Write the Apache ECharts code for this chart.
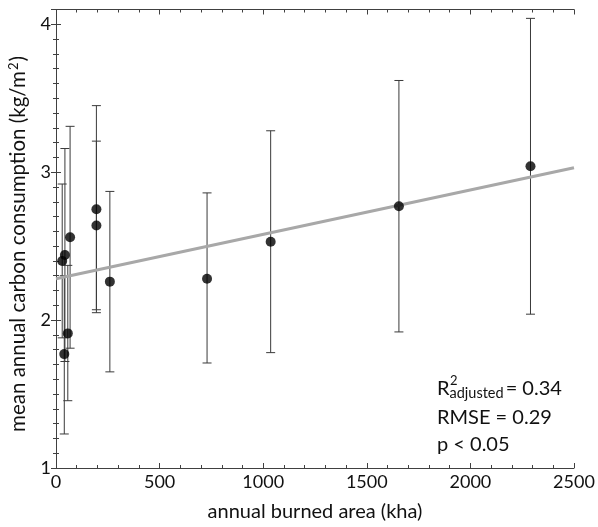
<!DOCTYPE html>
<html>
<head>
<meta charset="utf-8">
<script src="https://cdn.jsdelivr.net/npm/echarts@6/dist/echarts.min.js"></script>
<style>html,body{margin:0;padding:0;background:#fff}#c{width:598px;height:527px}</style>
</head>
<body>
<div id="c"></div>
<script>
// burned area (kha)
const burnedArea = [30, 43, 68, 57, 40, 195, 195, 260, 729, 1036, 1655, 2290];
// mean annual carbon consumption (kg/m2)
const meanCC = [2.40, 2.44, 2.56, 1.91, 1.77, 2.75, 2.64, 2.26, 2.28, 2.53, 2.77, 3.04];
// error bar ends
const errLow  = [1.88, 1.72, 1.81, 1.455, 1.23, 2.05, 2.07, 1.65, 1.71, 1.78, 1.92, 2.04];
const errHigh = [2.92, 3.16, 3.31, 2.37, 2.30, 3.45, 3.21, 2.87, 2.86, 3.28, 3.62, 4.04];
// regression line end points
const fitX = [0, 2500];
const fitY = [2.28, 3.03];
const xTicks = [0, 500, 1000, 1500, 2000, 2500];
const yTicks = [1, 2, 3, 4];

const FONT = 'Lato';
const chart = echarts.init(document.getElementById('c'), null, {renderer: 'canvas'});

const axCol = '#404040';
const axisLine = {show: true, lineStyle: {color: axCol, width: 1}};
const axisTick = {show: true, inside: true, length: 5, lineStyle: {color: axCol}};

const option = {
  animation: false,
  grid: {left: 56, right: 24, top: 9.5, bottom: 57, containLabel: false},
  xAxis: [
    {
      type: 'value', position: 'bottom', min: 0, max: 2500, interval: 500,
      axisLine: axisLine, axisTick: axisTick, splitLine: {show: false},
      minorTick: {show: true, splitNumber: 5, length: 3, lineStyle: {color: axCol}},
      axisLabel: {show: true, fontFamily: FONT, fontSize: 18, color: '#111', margin: 5,
        formatter: v => xTicks.includes(v) ? String(v) : ''},
      name: 'annual burned area (kha)', nameLocation: 'middle', nameGap: 34,
      nameTextStyle: {fontFamily: FONT, fontSize: 20, color: '#111'}
    },
    {
      type: 'value', position: 'top', min: 0, max: 2500, interval: 500,
      axisLine: axisLine, axisTick: axisTick,
      minorTick: {show: true, splitNumber: 5, length: 3, lineStyle: {color: axCol}},
      axisLabel: {show: false}, splitLine: {show: false}
    }
  ],
  yAxis: [
    {
      type: 'value', position: 'left', min: 1, max: 4.1, interval: 1,
      axisLine: axisLine, axisTick: axisTick, splitLine: {show: false},
      minorTick: {show: true, splitNumber: 10, length: 3, lineStyle: {color: axCol}},
      axisLabel: {show: true, fontFamily: FONT, fontSize: 18, color: '#111', margin: 5,
        showMaxLabel: false,
        formatter: v => yTicks.includes(v) ? String(v) : ''}
    },
    {
      type: 'value', position: 'right', min: 1, max: 4.1, interval: 1,
      axisLine: axisLine, axisTick: axisTick,
      minorTick: {show: true, splitNumber: 10, length: 3, lineStyle: {color: axCol}},
      axisLabel: {show: false}, splitLine: {show: false}
    }
  ],
  series: [
    {
      type: 'line', xAxisIndex: 0, yAxisIndex: 0,
      data: fitX.map((x, i) => [x, fitY[i]]),
      showSymbol: false, symbol: 'none',
      lineStyle: {color: '#a8a8a8', width: 3}, z: 3
    },
    {
      type: 'custom', xAxisIndex: 0, yAxisIndex: 0,
      data: burnedArea.map((x, i) => [x, errLow[i], errHigh[i]]),
      renderItem: function (params, api) {
        const x = api.value(0);
        const lo = api.coord([x, api.value(1)]);
        const hi = api.coord([x, api.value(2)]);
        const hw = 4.5;
        const st = {stroke: '#3a3a3a', lineWidth: 1};
        return {
          type: 'group',
          children: [
            {type: 'line', shape: {x1: lo[0], y1: lo[1], x2: hi[0], y2: hi[1]}, style: st},
            {type: 'line', shape: {x1: lo[0] - hw, y1: lo[1], x2: lo[0] + hw, y2: lo[1]}, style: st},
            {type: 'line', shape: {x1: hi[0] - hw, y1: hi[1], x2: hi[0] + hw, y2: hi[1]}, style: st}
          ]
        };
      },
      z: 2
    },
    {
      type: 'scatter', xAxisIndex: 0, yAxisIndex: 0,
      data: burnedArea.map((x, i) => [x, meanCC[i]]),
      symbol: 'circle', symbolSize: 10,
      itemStyle: {color: '#000'}, z: 5
    }
  ],
  graphic: [
    {type: 'text', x: 18, y: 244, rotation: Math.PI / 2,
      style: {
        text: '{a|mean annual carbon consumption (kg/m}{s|2}{a|)}',
        align: 'center', verticalAlign: 'middle',
        rich: {
          a: {fontFamily: FONT, fontSize: 20.5, fill: '#111'},
          s: {fontFamily: FONT, fontSize: 13, fill: '#111', verticalAlign: 'top', padding: [0, 1, 9, 1]}
        }
      }
    },
    {type: 'text', left: 437, top: 379,
      style: {
        text: '{a|R}{sub|adjusted}{a|= 0.34}',
        rich: {
          a: {fontFamily: FONT, fontSize: 20, fill: '#111'},
          sub: {fontFamily: FONT, fontSize: 14.5, fill: '#111', verticalAlign: 'bottom', padding: [9, 2, 0, 0]}
        }
      }
    },
    {type: 'text', left: 450, top: 374,
      style: {text: '2', fontFamily: FONT, fontSize: 13, fill: '#111'}},
    {type: 'text', left: 437, top: 408,
      style: {text: 'RMSE = 0.29', fontFamily: FONT, fontSize: 20, fill: '#111'}},
    {type: 'text', left: 437, top: 435,
      style: {text: 'p < 0.05', fontFamily: FONT, fontSize: 20, fill: '#111'}}
  ]
};
chart.setOption(option);
</script>
</body>
</html>
